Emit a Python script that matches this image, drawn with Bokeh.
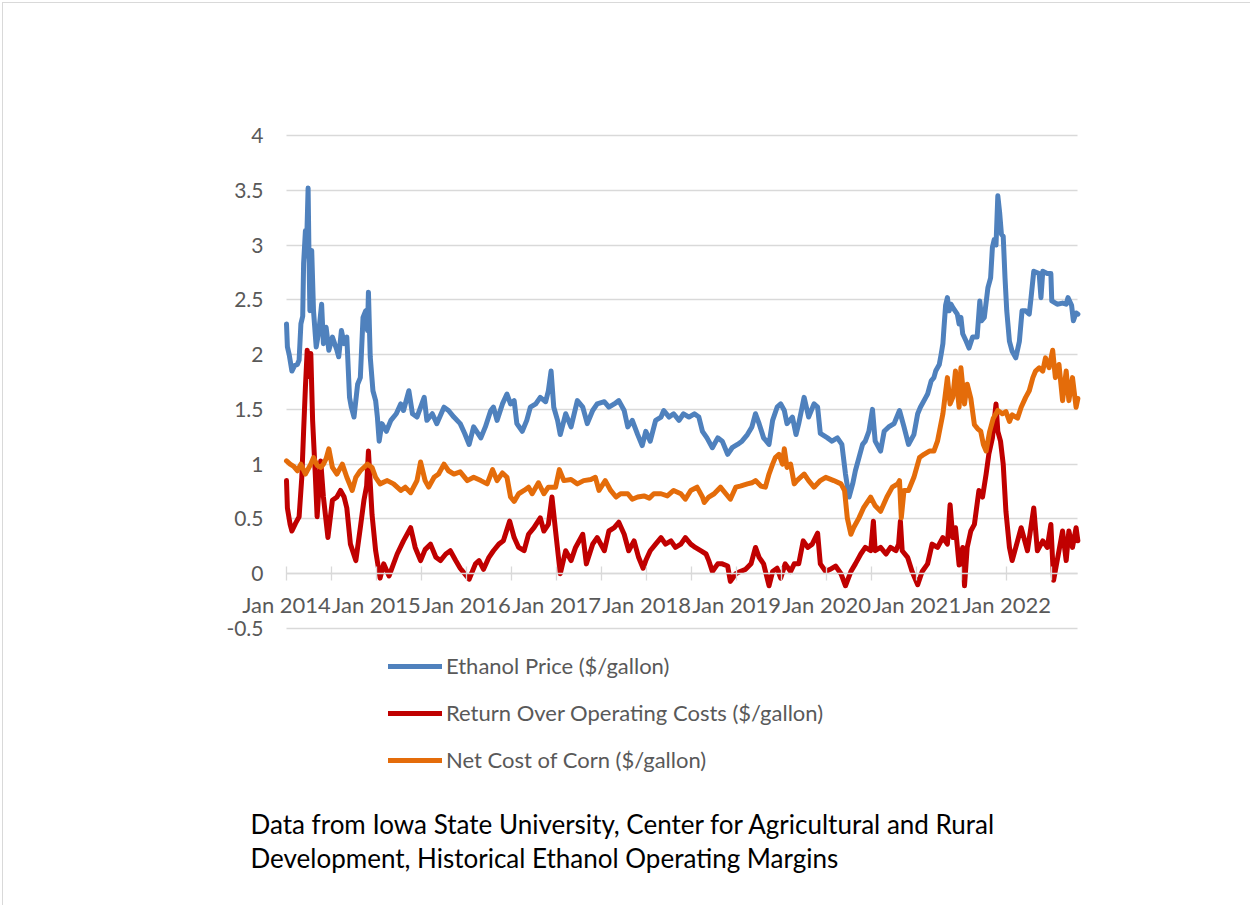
import pandas as pd
from bokeh.plotting import figure
from bokeh.models import (Range1d, FixedTicker, DatetimeTickFormatter, Legend, LegendItem, Grid,
                          Label, ColumnDataSource, NumeralTickFormatter, DatetimeAxis, LinearAxis)
from bokeh.embed import file_html
from bokeh.resources import INLINE

# ---------------- data (decimal years, $/gallon) ----------------
eth_t = [2014.00, 2014.01, 2014.03, 2014.06, 2014.09, 2014.12, 2014.14, 2014.16, 2014.18, 2014.19,
         2014.21, 2014.22, 2014.24, 2014.25, 2014.26, 2014.28, 2014.30, 2014.33, 2014.36, 2014.39,
         2014.41, 2014.44, 2014.47, 2014.51, 2014.56, 2014.58, 2014.61, 2014.64, 2014.67, 2014.70,
         2014.72, 2014.75, 2014.79, 2014.82, 2014.85, 2014.88, 2014.90, 2014.91, 2014.93, 2014.96,
         2014.99, 2015.01, 2015.03, 2015.06, 2015.11, 2015.16, 2015.22, 2015.27, 2015.30, 2015.36,
         2015.40, 2015.45, 2015.53, 2015.56, 2015.62, 2015.67, 2015.75, 2015.80, 2015.86, 2015.93,
         2015.98, 2016.03, 2016.08, 2016.16, 2016.21, 2016.27, 2016.30, 2016.34, 2016.40, 2016.45,
         2016.49, 2016.53, 2016.56, 2016.62, 2016.67, 2016.71, 2016.77, 2016.82, 2016.88, 2016.91,
         2016.94, 2016.97, 2017.01, 2017.04, 2017.10, 2017.16, 2017.23, 2017.29, 2017.34, 2017.40,
         2017.45, 2017.53, 2017.58, 2017.64, 2017.69, 2017.75, 2017.79, 2017.84, 2017.90, 2017.95,
         2017.99, 2018.04, 2018.10, 2018.16, 2018.19, 2018.25, 2018.30, 2018.36, 2018.41, 2018.47,
         2018.53, 2018.58, 2018.62, 2018.67, 2018.73, 2018.79, 2018.84, 2018.90, 2018.95, 2019.01,
         2019.06, 2019.12, 2019.17, 2019.21, 2019.25, 2019.30, 2019.36, 2019.40, 2019.45, 2019.49,
         2019.53, 2019.56, 2019.62, 2019.66, 2019.69, 2019.75, 2019.80, 2019.86, 2019.90, 2019.93,
         2020.01, 2020.06, 2020.12, 2020.17, 2020.21, 2020.25, 2020.29, 2020.32, 2020.36, 2020.40,
         2020.43, 2020.47, 2020.51, 2020.54, 2020.60, 2020.64, 2020.69, 2020.75, 2020.81, 2020.86,
         2020.91, 2020.97, 2021.01, 2021.04, 2021.10, 2021.12, 2021.16, 2021.19, 2021.21, 2021.25,
         2021.27, 2021.29, 2021.30, 2021.32, 2021.34, 2021.36, 2021.38, 2021.40, 2021.45, 2021.47,
         2021.49, 2021.51, 2021.55, 2021.58, 2021.62, 2021.67, 2021.70, 2021.72, 2021.75, 2021.79,
         2021.82, 2021.84, 2021.86, 2021.88, 2021.90, 2021.92, 2021.94, 2021.96, 2021.98, 2022.00,
         2022.03, 2022.06, 2022.10, 2022.14, 2022.17, 2022.21, 2022.25, 2022.27, 2022.30, 2022.36,
         2022.38, 2022.40, 2022.45, 2022.49, 2022.50, 2022.56, 2022.62, 2022.66, 2022.68, 2022.72,
         2022.74, 2022.77, 2022.79]
eth_v = [2.28, 2.07, 2.00, 1.85, 1.90, 1.91, 1.95, 2.28, 2.35, 2.83,
         3.13, 2.90, 3.52, 2.90, 2.40, 2.95, 2.40, 2.07, 2.22, 2.46,
         2.10, 2.25, 2.04, 2.16, 2.04, 1.98, 2.22, 2.10, 2.16, 1.61,
         1.52, 1.43, 1.73, 1.79, 2.34, 2.40, 2.22, 2.57, 1.98, 1.67,
         1.58, 1.43, 1.21, 1.37, 1.30, 1.40, 1.46, 1.55, 1.49, 1.67,
         1.46, 1.43, 1.61, 1.40, 1.46, 1.37, 1.52, 1.49, 1.43, 1.37,
         1.28, 1.18, 1.34, 1.24, 1.34, 1.49, 1.52, 1.40, 1.55, 1.64,
         1.55, 1.58, 1.37, 1.30, 1.40, 1.52, 1.55, 1.61, 1.57, 1.67,
         1.85, 1.52, 1.40, 1.27, 1.46, 1.34, 1.58, 1.52, 1.37, 1.49,
         1.55, 1.57, 1.52, 1.55, 1.58, 1.49, 1.34, 1.40, 1.27, 1.17,
         1.30, 1.21, 1.40, 1.43, 1.49, 1.43, 1.46, 1.40, 1.46, 1.43,
         1.46, 1.43, 1.30, 1.24, 1.15, 1.24, 1.21, 1.09, 1.15, 1.18,
         1.21, 1.27, 1.34, 1.46, 1.37, 1.24, 1.18, 1.40, 1.52, 1.55,
         1.49, 1.37, 1.43, 1.27, 1.37, 1.61, 1.43, 1.55, 1.52, 1.28,
         1.24, 1.21, 1.24, 1.18, 0.91, 0.70, 0.82, 0.94, 1.06, 1.18,
         1.21, 1.30, 1.50, 1.21, 1.12, 1.30, 1.34, 1.37, 1.49, 1.34,
         1.18, 1.27, 1.46, 1.52, 1.61, 1.64, 1.76, 1.79, 1.85, 1.91,
         2.00, 2.10, 2.22, 2.45, 2.52, 2.40, 2.46, 2.43, 2.37, 2.28,
         2.34, 2.19, 2.12, 2.06, 2.16, 2.16, 2.49, 2.31, 2.34, 2.61,
         2.70, 2.98, 3.05, 3.00, 3.45, 3.30, 3.10, 3.08, 2.70, 2.40,
         2.12, 2.03, 1.97, 2.12, 2.40, 2.40, 2.37, 2.52, 2.76, 2.74,
         2.52, 2.76, 2.74, 2.74, 2.49, 2.46, 2.47, 2.46, 2.52, 2.45,
         2.31, 2.38, 2.37]

ret_t = [2014.00, 2014.01, 2014.04, 2014.06, 2014.10, 2014.14, 2014.17, 2014.19, 2014.21, 2014.23,
         2014.25, 2014.27, 2014.29, 2014.32, 2014.34, 2014.38, 2014.41, 2014.46, 2014.51, 2014.56,
         2014.60, 2014.64, 2014.67, 2014.71, 2014.77, 2014.82, 2014.86, 2014.89, 2014.91, 2014.95,
         2014.99, 2015.04, 2015.08, 2015.14, 2015.23, 2015.30, 2015.38, 2015.43, 2015.49, 2015.54,
         2015.60, 2015.66, 2015.71, 2015.77, 2015.82, 2015.88, 2015.93, 2016.03, 2016.10, 2016.14,
         2016.19, 2016.25, 2016.30, 2016.36, 2016.41, 2016.48, 2016.53, 2016.58, 2016.64, 2016.69,
         2016.75, 2016.82, 2016.86, 2016.91, 2016.95, 2016.99, 2017.04, 2017.10, 2017.16, 2017.21,
         2017.29, 2017.33, 2017.40, 2017.45, 2017.53, 2017.58, 2017.64, 2017.69, 2017.75, 2017.80,
         2017.86, 2017.91, 2017.96, 2017.99, 2018.04, 2018.10, 2018.16, 2018.21, 2018.27, 2018.32,
         2018.38, 2018.43, 2018.49, 2018.54, 2018.60, 2018.66, 2018.69, 2018.73, 2018.79, 2018.84,
         2018.90, 2018.93, 2018.99, 2019.04, 2019.10, 2019.16, 2019.21, 2019.25, 2019.30, 2019.36,
         2019.40, 2019.45, 2019.49, 2019.54, 2019.60, 2019.64, 2019.69, 2019.74, 2019.79, 2019.84,
         2019.90, 2019.93, 2019.99, 2020.04, 2020.10, 2020.16, 2020.21, 2020.27, 2020.32, 2020.38,
         2020.43, 2020.49, 2020.52, 2020.54, 2020.60, 2020.66, 2020.71, 2020.77, 2020.80, 2020.82,
         2020.84, 2020.90, 2020.95, 2021.01, 2021.06, 2021.12, 2021.17, 2021.23, 2021.29, 2021.34,
         2021.37, 2021.40, 2021.43, 2021.47, 2021.51, 2021.53, 2021.56, 2021.60, 2021.64, 2021.69,
         2021.73, 2021.77, 2021.80, 2021.84, 2021.88, 2021.90, 2021.93, 2021.96, 2021.99, 2022.03,
         2022.06, 2022.12, 2022.16, 2022.23, 2022.30, 2022.34, 2022.40, 2022.45, 2022.49, 2022.52,
         2022.56, 2022.62, 2022.66, 2022.69, 2022.73, 2022.77, 2022.79]
ret_v = [0.85, 0.60, 0.45, 0.39, 0.46, 0.52, 0.88, 1.30, 1.70, 2.04,
         1.80, 2.01, 1.40, 0.90, 0.52, 1.03, 0.70, 0.33, 0.67, 0.70,
         0.76, 0.70, 0.60, 0.27, 0.12, 0.42, 0.67, 0.80, 1.12, 0.54,
         0.21, -0.04, 0.09, -0.02, 0.18, 0.30, 0.42, 0.24, 0.12, 0.22,
         0.27, 0.15, 0.12, 0.18, 0.21, 0.12, 0.05, -0.05, 0.09, 0.12,
         0.04, 0.15, 0.21, 0.27, 0.30, 0.48, 0.33, 0.24, 0.21, 0.36,
         0.42, 0.51, 0.39, 0.45, 0.70, 0.39, 0.00, 0.21, 0.12, 0.24,
         0.36, 0.09, 0.27, 0.33, 0.21, 0.39, 0.42, 0.47, 0.36, 0.21,
         0.30, 0.15, 0.05, 0.12, 0.21, 0.27, 0.33, 0.27, 0.30, 0.24,
         0.27, 0.33, 0.27, 0.24, 0.21, 0.18, 0.12, 0.02, 0.09, 0.09,
         0.07, -0.07, 0.00, 0.02, 0.04, 0.09, 0.24, 0.15, 0.09, -0.11,
         0.02, 0.05, -0.04, 0.09, 0.02, 0.09, 0.09, 0.30, 0.24, 0.27,
         0.37, 0.09, 0.02, 0.04, 0.07, 0.00, -0.11, 0.02, 0.09, 0.18,
         0.24, 0.21, 0.48, 0.21, 0.24, 0.18, 0.24, 0.21, 0.27, 0.48,
         0.21, 0.15, 0.02, -0.10, 0.02, 0.09, 0.27, 0.24, 0.33, 0.27,
         0.63, 0.33, 0.42, 0.08, 0.24, -0.11, 0.24, 0.39, 0.45, 0.76,
         0.70, 0.91, 1.09, 1.24, 1.55, 1.30, 1.21, 1.00, 0.57, 0.24,
         0.12, 0.30, 0.42, 0.21, 0.60, 0.21, 0.30, 0.24, 0.45, -0.06,
         0.12, 0.39, 0.12, 0.39, 0.24, 0.42, 0.30]

corn_t = [2014.00, 2014.04, 2014.08, 2014.12, 2014.16, 2014.21, 2014.27, 2014.30, 2014.34, 2014.38,
          2014.41, 2014.44, 2014.47, 2014.51, 2014.56, 2014.62, 2014.67, 2014.73, 2014.77, 2014.82,
          2014.90, 2014.95, 2014.99, 2015.04, 2015.12, 2015.19, 2015.27, 2015.32, 2015.38, 2015.45,
          2015.49, 2015.54, 2015.58, 2015.64, 2015.69, 2015.75, 2015.80, 2015.86, 2015.93, 2016.01,
          2016.08, 2016.16, 2016.23, 2016.29, 2016.34, 2016.40, 2016.45, 2016.49, 2016.53, 2016.58,
          2016.64, 2016.69, 2016.73, 2016.80, 2016.86, 2016.91, 2016.99, 2017.03, 2017.08, 2017.16,
          2017.23, 2017.30, 2017.38, 2017.43, 2017.47, 2017.54, 2017.60, 2017.66, 2017.71, 2017.79,
          2017.84, 2017.90, 2017.97, 2018.03, 2018.08, 2018.16, 2018.23, 2018.30, 2018.38, 2018.43,
          2018.49, 2018.56, 2018.62, 2018.64, 2018.69, 2018.75, 2018.82, 2018.88, 2018.93, 2018.99,
          2019.04, 2019.12, 2019.17, 2019.21, 2019.27, 2019.32, 2019.36, 2019.40, 2019.43, 2019.47,
          2019.51, 2019.53, 2019.56, 2019.60, 2019.64, 2019.67, 2019.75, 2019.80, 2019.86, 2019.93,
          2019.99, 2020.08, 2020.16, 2020.20, 2020.23, 2020.27, 2020.30, 2020.36, 2020.41, 2020.49,
          2020.54, 2020.60, 2020.67, 2020.73, 2020.79, 2020.81, 2020.83, 2020.86, 2020.91, 2020.97,
          2021.03, 2021.08, 2021.14, 2021.19, 2021.23, 2021.29, 2021.34, 2021.37, 2021.40, 2021.43,
          2021.47, 2021.49, 2021.53, 2021.56, 2021.60, 2021.64, 2021.68, 2021.71, 2021.74, 2021.77,
          2021.81, 2021.85, 2021.90, 2021.95, 2021.99, 2022.03, 2022.06, 2022.12, 2022.16, 2022.21,
          2022.25, 2022.29, 2022.32, 2022.36, 2022.40, 2022.43, 2022.47, 2022.51, 2022.54, 2022.58,
          2022.62, 2022.66, 2022.69, 2022.73, 2022.77, 2022.79]
corn_v = [1.03, 1.00, 0.98, 0.94, 1.00, 0.91, 1.00, 1.06, 0.99, 0.97,
          1.00, 1.05, 1.14, 0.97, 0.91, 1.00, 0.88, 0.76, 0.88, 0.94,
          1.00, 0.97, 0.88, 0.82, 0.85, 0.82, 0.76, 0.79, 0.74, 0.85,
          1.02, 0.85, 0.79, 0.88, 0.91, 1.00, 0.94, 0.91, 0.93, 0.85,
          0.88, 0.85, 0.82, 0.95, 0.85, 0.92, 0.88, 0.70, 0.66, 0.73,
          0.76, 0.79, 0.73, 0.83, 0.73, 0.79, 0.79, 0.95, 0.85, 0.86,
          0.82, 0.85, 0.86, 0.88, 0.76, 0.85, 0.76, 0.70, 0.73, 0.73,
          0.68, 0.70, 0.71, 0.69, 0.73, 0.73, 0.71, 0.76, 0.73, 0.68,
          0.76, 0.79, 0.70, 0.65, 0.70, 0.73, 0.79, 0.73, 0.68, 0.79,
          0.80, 0.82, 0.83, 0.85, 0.80, 0.79, 0.91, 1.00, 1.06, 1.09,
          1.00, 1.14, 0.97, 1.00, 0.82, 0.85, 0.91, 0.85, 0.79, 0.85,
          0.88, 0.85, 0.82, 0.76, 0.51, 0.36, 0.42, 0.51, 0.60, 0.70,
          0.62, 0.57, 0.70, 0.79, 0.82, 0.85, 0.51, 0.76, 0.76, 0.88,
          1.06, 1.09, 1.12, 1.12, 1.21, 1.46, 1.79, 1.55, 1.61, 1.85,
          1.52, 1.88, 1.55, 1.73, 1.60, 1.36, 1.32, 1.30, 1.18, 1.12,
          1.30, 1.42, 1.49, 1.46, 1.48, 1.39, 1.45, 1.42, 1.52, 1.61,
          1.67, 1.79, 1.85, 1.88, 1.85, 1.97, 1.88, 2.04, 1.79, 1.91,
          1.58, 1.85, 1.58, 1.79, 1.52, 1.60]

series_names = ["Ethanol Price ($/gallon)",
                "Return Over Operating Costs ($/gallon)",
                "Net Cost of Corn ($/gallon)"]
series_colors = ["#4F81BD", "#C00000", "#E46C0A"]
year_ticks = [2014, 2015, 2016, 2017, 2018, 2019, 2020, 2021, 2022]
y_ticks = [-0.5, 0, 0.5, 1, 1.5, 2, 2.5, 3, 3.5, 4]
caption_lines = ["Data from Iowa State University, Center for Agricultural and Rural",
                 "Development, Historical Ethanol Operating Margins"]


def to_dates(ts):
    out = []
    for t in ts:
        y = int(t)
        out.append(pd.Timestamp(year=y, month=1, day=1) + pd.Timedelta(days=(t - y) * 365.25))
    return out


def ms(ts):
    return ts.value // 10**6


FONT = "Lato"
GRAY = "#595959"
GRID = "#D9D9D9"

# ---------------- layout (page pixels) ----------------
W, H = 1248, 903          # canvas, placed at page (3, 3)
OX, OY = 3, 3
PLOT_L, PLOT_R = 286, 1077
PLOT_T, PLOT_B = 135, 628

x_start = pd.Timestamp("2014-01-01")
x_end = pd.Timestamp("2022-10-15")
days = (x_end - x_start).days
px_per_day = (PLOT_R - PLOT_L) / days
xr0 = x_start - pd.Timedelta(days=(PLOT_L - OX) / px_per_day)
xr1 = x_end + pd.Timedelta(days=(OX + W - PLOT_R) / px_per_day)

y_lo, y_hi = y_ticks[0], y_ticks[-1]
px_per_unit = (PLOT_B - PLOT_T) / (y_hi - y_lo)
yr1 = y_hi + (PLOT_T - OY) / px_per_unit
yr0 = y_lo - (OY + H - PLOT_B) / px_per_unit

p = figure(width=W, height=H,
           x_range=Range1d(xr0, xr1), y_range=Range1d(yr0, yr1),
           x_axis_location=None, y_axis_location=None,
           output_backend="svg", toolbar_location=None,
           min_border=0, min_border_left=0, min_border_right=0,
           min_border_top=0, min_border_bottom=0,
           outline_line_color=None,
           styles={"margin-left": "2px", "margin-top": "2px",
                   "border-top": "1px solid #D9D9D9", "border-left": "1px solid #D9D9D9"})

p.xgrid.visible = False
p.ygrid.visible = False

# y axis (labels only), placed at the first date
yax = LinearAxis(fixed_location=ms(x_start),
                 ticker=FixedTicker(ticks=y_ticks),
                 formatter=NumeralTickFormatter(format="0.[0]"),
                 axis_line_color=None, major_tick_line_color=None, minor_tick_line_color=None,
                 major_tick_in=0, major_tick_out=0, major_label_standoff=23,
                 major_label_text_font=FONT, major_label_text_font_size="21px",
                 major_label_text_color=GRAY)
p.add_layout(yax, "left")

# horizontal gridlines restricted to the data span
ygrid = Grid(dimension=1, ticker=FixedTicker(ticks=y_ticks),
             cross_bounds=(ms(x_start), ms(x_end)),
             grid_line_color=GRID, grid_line_width=1.3)
p.add_layout(ygrid)

fmt = "%b %Y"
xax = DatetimeAxis(fixed_location=0, bounds=(ms(x_start), ms(x_end)))
xax.ticker = FixedTicker(ticks=[ms(pd.Timestamp(year=y, month=1, day=1)) for y in year_ticks],
                         minor_ticks=[ms(pd.Timestamp(year=y, month=7, day=1)) for y in year_ticks])
xax.formatter = DatetimeTickFormatter(years=fmt, months=fmt, days=fmt, hours=fmt,
                                      minutes=fmt, seconds=fmt, milliseconds=fmt,
                                      microseconds=fmt, hourmin=fmt, minsec=fmt)
xax.axis_line_color = GRID
xax.axis_line_width = 1.3
xax.major_tick_line_color = GRID
xax.minor_tick_line_color = GRID
xax.major_tick_line_width = 1.3
xax.minor_tick_line_width = 1.3
xax.major_tick_in = 7
xax.major_tick_out = 7
xax.minor_tick_in = 7
xax.minor_tick_out = 7
xax.major_label_standoff = 10
xax.major_label_text_font = FONT
xax.major_label_text_font_size = "22px"
xax.major_label_text_color = GRAY
p.add_layout(xax, "below")

renderers = []
for t, v, c in [(eth_t, eth_v, series_colors[0]),
                (ret_t, ret_v, series_colors[1]),
                (corn_t, corn_v, series_colors[2])]:
    src = ColumnDataSource(dict(x=to_dates(t), y=v))
    r = p.line("x", "y", source=src, line_color=c, line_width=5,
               line_join="round", line_cap="round")
    renderers.append(r)

# legend below the plot area (screen units from the canvas' bottom-left)
legend = Legend(items=[LegendItem(label=n, renderers=[r]) for n, r in zip(series_names, renderers)],
                location=(388 - OX, 133), orientation="vertical",
                glyph_width=54, glyph_height=22, label_height=22, spacing=20,
                padding=0, margin=0, label_standoff=4,
                border_line_color=None, background_fill_alpha=0,
                label_text_font=FONT, label_text_font_size="22px",
                label_text_color=GRAY)
p.add_layout(legend)

for i, (line, yc) in enumerate(zip(caption_lines, [823, 857])):
    p.add_layout(Label(x=250 - OX, y=OY + H - yc, x_units="screen", y_units="screen",
                       text=line, text_font=FONT, text_font_size="26px",
                       text_color="#000000", text_baseline="middle"))

open("out.html", "w").write(file_html(p, INLINE))
